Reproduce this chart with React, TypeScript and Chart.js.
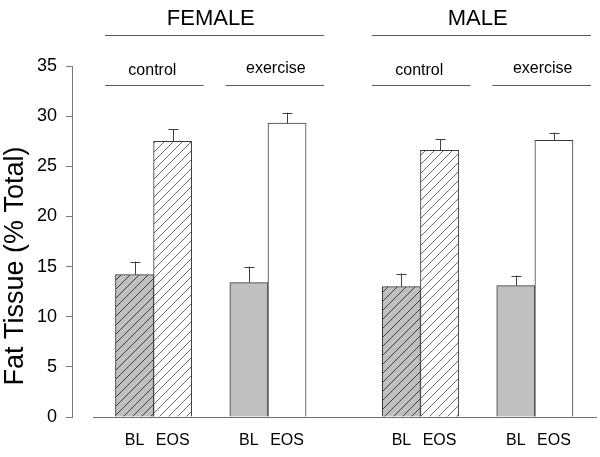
import React, { useEffect, useRef } from 'react';
import { Chart, registerables } from 'chart.js';

Chart.register(...registerables);

// ---- data ----
const sexes = ['FEMALE', 'MALE'];
const treatments = ['control', 'exercise'];
const timepoints = ['BL', 'EOS'];
// order: F-control BL, EOS, F-exercise BL, EOS, M-control BL, EOS, M-exercise BL, EOS
const fatMeans = [14.2, 27.5, 13.4, 29.3, 13.0, 26.6, 13.1, 27.6];
const fatErrors = [1.3, 1.2, 1.6, 1.05, 1.3, 1.1, 1.0, 0.75];
const yTickValues = [0, 5, 10, 15, 20, 25, 30, 35];
const yTitle = 'Fat Tissue (% Total)';

const FONT = 'Arial, "Liberation Sans", Helvetica, sans-serif';

function slotOf(i: number) {
  const s = Math.floor(i / 4);
  const t = Math.floor(i / 2) % 2;
  const k = i % 2;
  return s * 7 + t * 3 + k;
}

function makeHatch(bg: string, fg: string) {
  const p = 9;
  const c = document.createElement('canvas');
  c.width = p;
  c.height = p;
  const g = c.getContext('2d')!;
  g.fillStyle = bg;
  g.fillRect(0, 0, p, p);
  g.strokeStyle = fg;
  g.lineWidth = 1;
  g.beginPath();
  g.moveTo(0, p);
  g.lineTo(p, 0);
  g.moveTo(-1, 1);
  g.lineTo(1, -1);
  g.moveTo(p - 1, p + 1);
  g.lineTo(p + 1, p - 1);
  g.stroke();
  return g.createPattern(c, 'repeat')!;
}

export default function App() {
  const ref = useRef<HTMLCanvasElement>(null);

  useEffect(() => {
    const canvas = ref.current!;
    const hatchGray = makeHatch('#c0c0c0', '#3c3c3c');
    const hatchWhite = makeHatch('#ffffff', '#6a6a6a');

    const points = fatMeans.map((v, i) => ({ x: slotOf(i), y: v }));
    const colors = fatMeans.map((_, i) => {
      const t = Math.floor(i / 2) % 2;
      const k = i % 2;
      if (t === 0) return k === 0 ? hatchGray : hatchWhite;
      return k === 0 ? '#c0c0c0' : '#ffffff';
    });
    const slotLabels: Record<number, string> = {};
    fatMeans.forEach((_, i) => {
      slotLabels[slotOf(i)] = timepoints[i % 2];
    });

    const decor = {
      id: 'decor',
      afterDatasetsDraw(chart: any) {
        const ctx = chart.ctx;
        const ys = chart.scales.y;
        const meta = chart.getDatasetMeta(0);
        ctx.save();
        // error bars
        ctx.strokeStyle = '#404040';
        ctx.lineWidth = 1;
        meta.data.forEach((el: any, i: number) => {
          const x = Math.round(el.x) + 0.5;
          const yTop = ys.getPixelForValue(fatMeans[i] + fatErrors[i]);
          ctx.beginPath();
          ctx.moveTo(x, el.y);
          ctx.lineTo(x, yTop);
          ctx.moveTo(x - 5, Math.round(yTop) + 0.5);
          ctx.lineTo(x + 5, Math.round(yTop) + 0.5);
          ctx.stroke();
        });
        // baseline
        const by = Math.round(ys.getPixelForValue(0)) + 0.5;
        ctx.strokeStyle = '#6e6e6e';
        ctx.beginPath();
        ctx.moveTo(chart.chartArea.left + 21, by);
        ctx.lineTo(chart.chartArea.right, by);
        ctx.stroke();
        ctx.restore();
      },
      afterDraw(chart: any) {
        const ctx = chart.ctx;
        const xs = chart.scales.x;
        ctx.save();
        ctx.fillStyle = '#000';
        ctx.strokeStyle = '#5a5a5a';
        ctx.lineWidth = 1;
        const gap = 22;
        sexes.forEach((sex, s) => {
          const firstSlot = s * 7;
          const lastSlot = s * 7 + 4;
          const sexStart = xs.getPixelForValue(firstSlot - 0.77);
          const sexEnd = xs.getPixelForValue(lastSlot + 0.97);
          const half = (sexEnd - sexStart - gap) / 2;
          treatments.forEach((tr, t) => {
            const x0 = sexStart + t * (half + gap);
            const x1 = x0 + half;
            ctx.beginPath();
            ctx.moveTo(x0, 85.5);
            ctx.lineTo(x1, 85.5);
            ctx.stroke();
            ctx.font = `16px ${FONT}`;
            ctx.textAlign = 'center';
            ctx.textBaseline = 'alphabetic';
            ctx.fillText(tr, (x0 + x1) / 2 + (t === 0 ? -2 : 1), t === 0 ? 75 : 73);
          });
          ctx.beginPath();
          ctx.moveTo(sexStart, 35.5);
          ctx.lineTo(sexEnd, 35.5);
          ctx.stroke();
          ctx.font = `22px ${FONT}`;
          ctx.textAlign = 'center';
          ctx.textBaseline = 'alphabetic';
          ctx.fillText(sex, xs.getPixelForValue(firstSlot + 2), 25);
        });
        // y title
        ctx.translate(22.5, 266);
        ctx.rotate(-Math.PI / 2);
        ctx.font = `27px ${FONT}`;
        ctx.textAlign = 'center';
        ctx.textBaseline = 'alphabetic';
        ctx.fillText(yTitle, 0, 0);
        ctx.restore();
      },
    };

    const chart = new Chart(canvas, {
      type: 'bar',
      data: {
        datasets: [
          {
            data: points as any,
            backgroundColor: colors as any,
            borderColor: '#3a3a3a',
            borderWidth: 1,
            categoryPercentage: 1,
            barPercentage: 1,
          },
        ],
      },
      options: {
        responsive: false,
        animation: false,
        events: [],
        layout: { padding: { top: 66, right: 3, left: 0, bottom: 0 } },
        plugins: {
          legend: { display: false },
          tooltip: { enabled: false },
          title: { display: false },
        },
        scales: {
          x: {
            type: 'linear',
            offset: false,
            min: -1.64,
            max: 12.13,
            grid: { display: false, drawTicks: false, offset: false },
            border: { display: false },
            afterBuildTicks: (scale: any) => {
              scale.ticks = Object.keys(slotLabels).map((k) => ({ value: Number(k) }));
            },
            afterFit: (scale: any) => {
              scale.height = 40;
            },
            ticks: {
              autoSkip: false,
              maxRotation: 0,
              padding: 14,
              color: '#000',
              font: { family: FONT, size: 16 },
              callback: (v: any) => slotLabels[Number(v)] ?? '',
            },
          },
          y: {
            min: 0,
            max: 35,
            afterBuildTicks: (scale: any) => {
              scale.ticks = yTickValues.map((v) => ({ value: v }));
            },
            afterFit: (scale: any) => {
              scale.width = 72;
            },
            grid: {
              display: true,
              drawOnChartArea: false,
              drawTicks: true,
              tickLength: 6,
              color: '#7a7a7a',
            },
            border: { display: true, color: '#7a7a7a', width: 1 },
            ticks: {
              padding: 9,
              color: '#000',
              font: { family: FONT, size: 18 },
            },
          },
        },
      },
      plugins: [decor],
    });

    return () => chart.destroy();
  }, []);

  return (
    <div style={{ position: 'absolute', left: 0, top: 0, width: 600, height: 457, background: '#fff' }}>
      <canvas ref={ref} width={600} height={457} style={{ display: 'block' }} />
    </div>
  );
}
